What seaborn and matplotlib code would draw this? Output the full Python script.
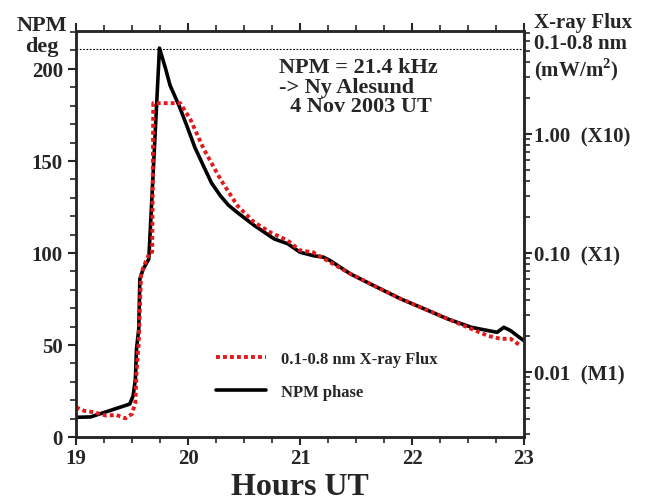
import numpy as np
import pandas as pd
import matplotlib
matplotlib.use("Agg")
import matplotlib.pyplot as plt
from matplotlib.ticker import MultipleLocator, LogLocator, NullFormatter
import seaborn as sns

# NPM phase (deg) vs hours UT
npm_hours = [19.00, 19.13, 19.21, 19.30, 19.39, 19.48, 19.51, 19.53, 19.54, 19.56,
             19.57, 19.60, 19.65, 19.745, 19.80, 19.84, 19.92, 19.99, 20.06, 20.14,
             20.21, 20.29, 20.36, 20.44, 20.59, 20.77, 20.89, 21.00, 21.12, 21.21,
             21.27, 21.45, 21.66, 21.90, 22.11, 22.32, 22.53, 22.68, 22.76, 22.82,
             22.88, 22.94, 23.00]
npm_phase = [10.7, 10.9, 12.5, 14.3, 16.1, 17.9, 22.4, 31.5, 47.8, 58.7,
             85.9, 91.3, 96.7, 211.3, 200.0, 191.0, 180.0, 169.0, 157.5, 147.0,
             138.0, 131.0, 126.0, 122.0, 115.0, 107.6, 105.0, 100.4, 98.5, 97.7,
             95.8, 88.6, 82.2, 75.0, 69.6, 64.1, 59.6, 57.8, 56.9, 59.6,
             57.8, 55.0, 52.3]

# GOES 0.1-0.8 nm X-ray flux (mW/m^2)
xray_hours = [19.00, 19.07, 19.16, 19.27, 19.36, 19.44, 19.50, 19.53, 19.54, 19.56,
              19.58, 19.60, 19.66, 19.68, 19.69, 19.93, 20.02, 20.14, 20.29, 20.44,
              20.59, 20.74, 20.89, 21.00, 21.12, 21.21, 21.45, 21.66, 21.90, 22.11,
              22.32, 22.53, 22.68, 22.79, 22.88, 22.97]
xray_flux = [0.00505, 0.00473, 0.00459, 0.00430, 0.00436, 0.00408, 0.00444, 0.00556, 0.00989, 0.0178,
             0.0653, 0.0752, 0.102, 0.102, 1.81, 1.81, 1.33, 0.746, 0.415, 0.250,
             0.181, 0.148, 0.127, 0.105, 0.101, 0.0899, 0.0667, 0.0531, 0.0411, 0.0339,
             0.0279, 0.0230, 0.0201, 0.0190, 0.0190, 0.0166]

flux_ticks = [0.01, 0.1, 1.0]
flux_ticklabels = ["0.01  (M1)", "0.10  (X1)", "1.00  (X10)"]
peak_level = 211

npm_df = pd.DataFrame({"Hours UT": npm_hours, "NPM phase": npm_phase})
xray_df = pd.DataFrame({"Hours UT": xray_hours, "Flux": xray_flux})

sns.set_style("ticks")
plt.rcParams["font.family"] = ["Liberation Serif", "DejaVu Serif"]
plt.rcParams["font.weight"] = "bold"
plt.rcParams["mathtext.fontset"] = "custom"
plt.rcParams["mathtext.rm"] = "Liberation Serif:bold"

fig = plt.figure(figsize=(6.52, 5.02), dpi=100)
ax = fig.add_axes([0.1166, 0.1275, 0.6871, 0.8088])
ax2 = ax.twinx()

sns.lineplot(x="Hours UT", y="NPM phase", data=npm_df, ax=ax, color="black",
             linewidth=2.6, label="NPM phase", legend=False)
sns.lineplot(x="Hours UT", y="Flux", data=xray_df, ax=ax2, color="#e31a1c",
             linewidth=2.8, linestyle=(0, (1, 0.8)), label="0.1-0.8 nm X-ray Flux",
             legend=False)
for line in ax2.get_lines():
    line.set_dash_capstyle("butt")

ax.axhline(peak_level, color="black", linestyle=(0, (1.5, 1.5)), linewidth=0.8)

ax.set_xlim(19, 23)
ax.set_ylim(0, 220.6)
ax2.set_yscale("log")
ax2.set_ylim(10 ** -2.546, 10 ** 0.864)

ax.xaxis.set_major_locator(MultipleLocator(1))
ax.xaxis.set_minor_locator(MultipleLocator(0.25))
ax.yaxis.set_major_locator(MultipleLocator(50))
ax.yaxis.set_minor_locator(MultipleLocator(10))
ax2.set_yticks(flux_ticks)
ax2.set_yticklabels(flux_ticklabels)
ax2.yaxis.set_minor_locator(LogLocator(base=10, subs=np.arange(2, 10)))
ax2.yaxis.set_minor_formatter(NullFormatter())

ax.tick_params(axis="both", which="major", direction="out", length=6, width=1.5,
               labelsize=15, top=True)
ax.tick_params(axis="both", which="minor", direction="out", length=4, width=1.2, top=True)
ax.tick_params(axis="x", pad=2)
ax2.tick_params(axis="y", which="major", direction="out", length=6, width=1.5,
                labelsize=15, pad=1)
ax2.tick_params(axis="y", which="minor", direction="out", length=4, width=1.2)

for a in (ax, ax2):
    for s in a.spines.values():
        s.set_linewidth(1.8)
        s.set_visible(True)

ax.set_xlabel("Hours UT", fontsize=23, fontweight="bold", labelpad=3)
ax.set_ylabel("")
ax2.set_ylabel("")

fig.text(0.064, 0.886, "NPM\ndeg", fontsize=16, fontweight="bold", ha="center",
         va="bottom", linespacing=1.05)
fig.text(0.819, 0.975, "X-ray Flux\n0.1-0.8 nm\n(mW/m$^2$)", fontsize=15,
         fontweight="bold", ha="left", va="top", linespacing=1.1)
ax.text(0.452, 0.935, "NPM = 21.4 kHz\n-> Ny Alesund\n  4 Nov 2003 UT", transform=ax.transAxes,
        fontsize=16, fontweight="bold", ha="left", va="top", linespacing=0.95)

h1, l1 = ax.get_legend_handles_labels()
h2, l2 = ax2.get_legend_handles_labels()
ax.legend(h2 + h1, l2 + l1, loc="upper left", bbox_to_anchor=(0.28, 0.248),
          frameon=False, fontsize=12, handlelength=3.0, labelspacing=1.0,
          handletextpad=0.9)

fig.savefig("out.png", dpi=100)
